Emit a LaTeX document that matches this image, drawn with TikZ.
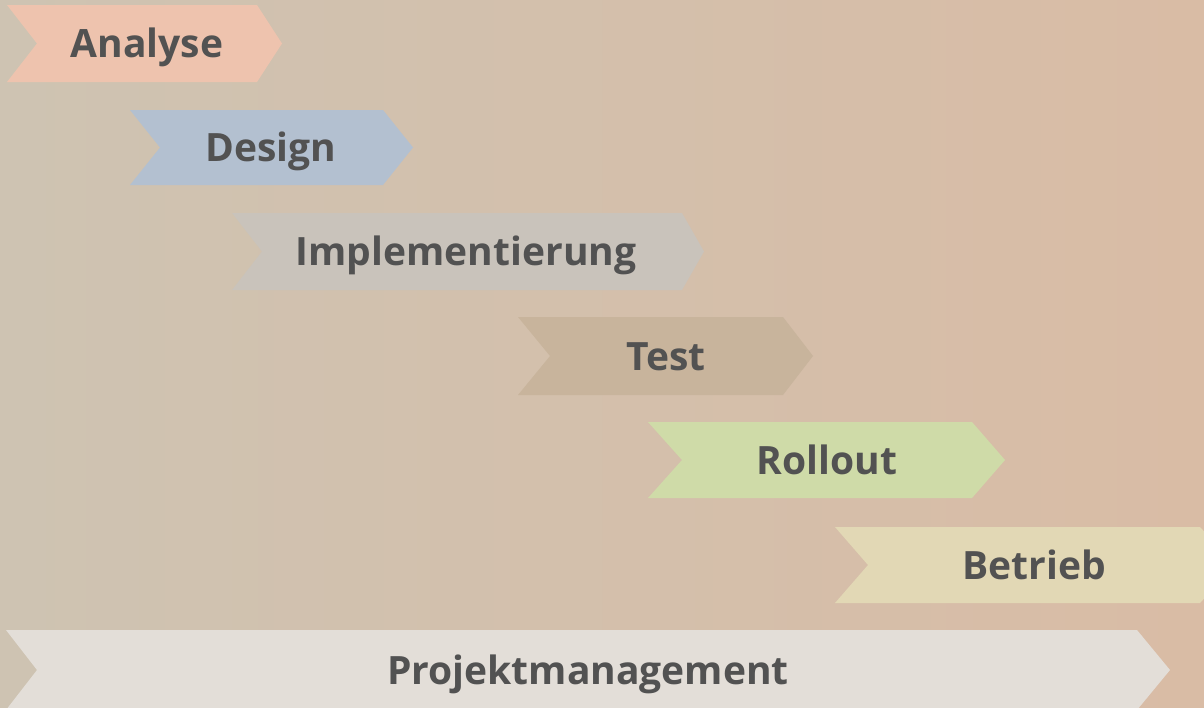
\documentclass[tikz,border=0pt]{standalone}
\usepackage{fontspec}
\setmainfont{Open Sans}
\definecolor{bgL}{HTML}{CEC3B2}
\definecolor{bgR}{HTML}{D9BCA5}
\definecolor{txt}{HTML}{525252}
\definecolor{cAna}{HTML}{EEC3AE}
\definecolor{cDes}{HTML}{B3C0D0}
\definecolor{cImp}{HTML}{C9C3BB}
\definecolor{cTst}{HTML}{C8B49C}
\definecolor{cRol}{HTML}{CFDBA8}
\definecolor{cBet}{HTML}{E2D8B5}
\definecolor{cPrj}{HTML}{E3DED8}
% #1 name, #2 colour, #3 L, #4 T, #5 B, #6 notch, #7 E, #8 tip, #9 text centre x ; text passed via \chevtext
\newcommand\chevron[9]{%
  \fill[#2] (#3,#4) -- (#7,#4) -- ({#7+#8},{(#4+#5)/2}) -- (#7,#5) -- (#3,#5) -- ({#3+#6},{(#4+#5)/2}) -- cycle;
  \node[phase] (#1) at (#9,{(#4+#5)/2+14}) {\chevtext};
}
\tikzset{phase/.style={anchor=base, inner sep=0pt, text=txt, font=\bfseries\fontsize{39}{47}\selectfont}}
\begin{document}
\begin{tikzpicture}[x=1pt,y=-1pt]
\useasboundingbox (0,0) rectangle (1204,707);
\clip (0,0) rectangle (1204,707);
\shade[left color=bgL, right color=bgR] (0,0) rectangle (1204,707);
\def\chevtext{Analyse}\chevron{ana}{cAna}{7}{5}{82}{30}{257}{25}{147}
\def\chevtext{Design}\chevron{des}{cDes}{130}{110}{185}{30}{383}{30}{271}
\def\chevtext{Implementierung}\chevron{imp}{cImp}{232}{213}{290}{30}{682}{22}{466}
\def\chevtext{Test}\chevron{tst}{cTst}{518}{317}{395}{32}{783}{30}{666}
\def\chevtext{Rollout}\chevron{rol}{cRol}{648}{422}{498}{34}{972}{33}{827}
\def\chevtext{Betrieb}\chevron{bet}{cBet}{835}{527}{603}{33}{1200}{35}{1034}
\def\chevtext{Projektmanagement}\chevron{prj}{cPrj}{6}{630}{710}{31}{1137}{33}{588}
\end{tikzpicture}
\end{document}
